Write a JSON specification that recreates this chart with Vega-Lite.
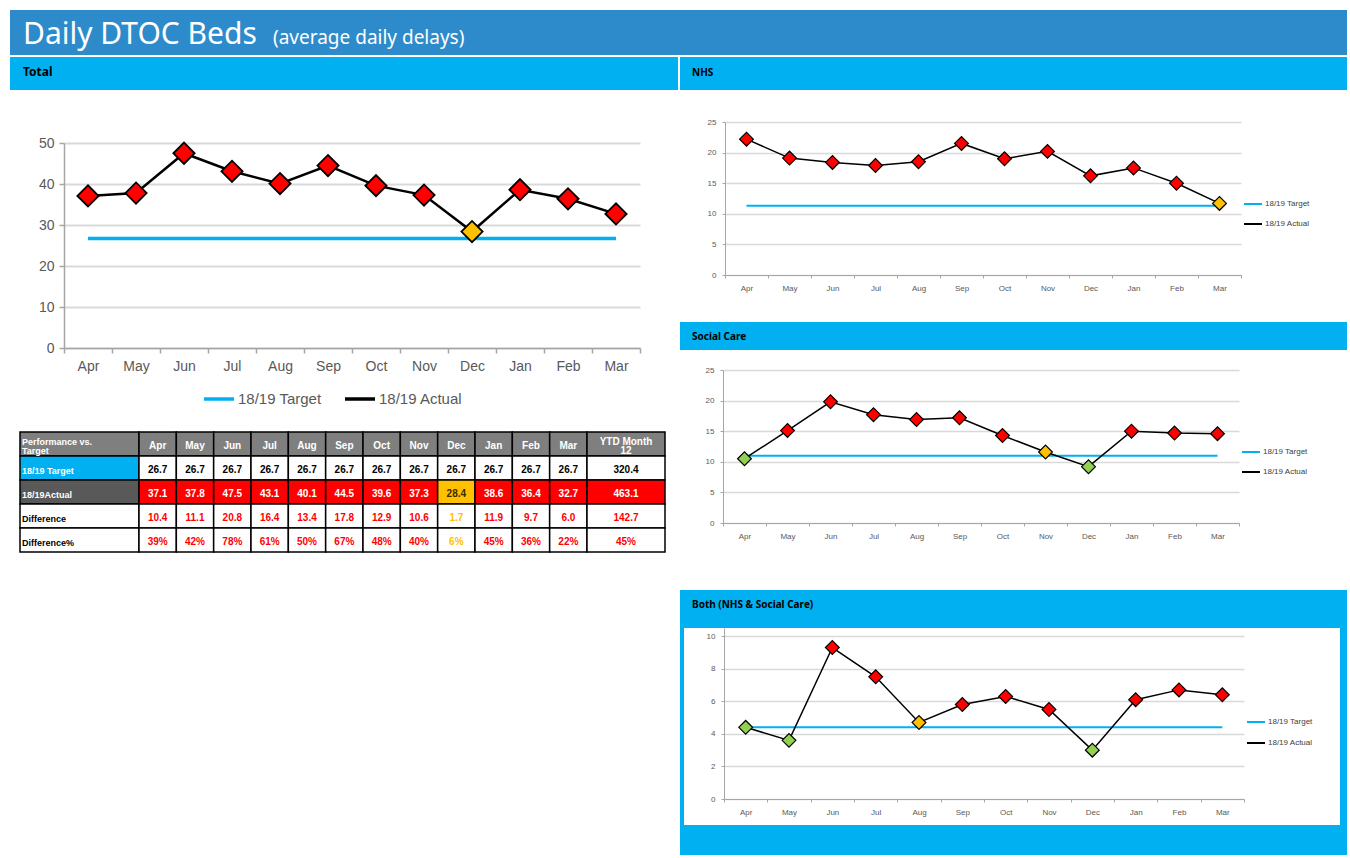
{
  "$schema": "https://vega.github.io/schema/vega-lite/v6.json",
  "padding": {"left": 10, "top": 10, "right": 3, "bottom": 3},
  "background": "white",
  "config": {
    "view": {"stroke": null},
    "font": "Liberation Sans",
    "axis": {"gridColor": "#D9D9D9", "domainColor": "#A6A6A6", "tickColor": "#A6A6A6", "labelColor": "#595959", "labelFont": "Liberation Sans"},
    "title": {"anchor": "start", "frame": "group", "orient": "top", "baseline": "alphabetic", "font": "Noto Sans", "fontWeight": "bold", "color": "black", "fontSize": 10}
  },
  "datasets": {
    "total": [
      {"month": "Apr", "actual": 37.1, "target": 26.7, "rag": "R"},
      {"month": "May", "actual": 37.8, "target": 26.7, "rag": "R"},
      {"month": "Jun", "actual": 47.5, "target": 26.7, "rag": "R"},
      {"month": "Jul", "actual": 43.1, "target": 26.7, "rag": "R"},
      {"month": "Aug", "actual": 40.1, "target": 26.7, "rag": "R"},
      {"month": "Sep", "actual": 44.5, "target": 26.7, "rag": "R"},
      {"month": "Oct", "actual": 39.6, "target": 26.7, "rag": "R"},
      {"month": "Nov", "actual": 37.3, "target": 26.7, "rag": "R"},
      {"month": "Dec", "actual": 28.4, "target": 26.7, "rag": "A"},
      {"month": "Jan", "actual": 38.6, "target": 26.7, "rag": "R"},
      {"month": "Feb", "actual": 36.4, "target": 26.7, "rag": "R"},
      {"month": "Mar", "actual": 32.7, "target": 26.7, "rag": "R"}
    ],
    "nhs": [
      {"month": "Apr", "actual": 22.2, "target": 11.3, "rag": "R"},
      {"month": "May", "actual": 19.1, "target": 11.3, "rag": "R"},
      {"month": "Jun", "actual": 18.4, "target": 11.3, "rag": "R"},
      {"month": "Jul", "actual": 17.9, "target": 11.3, "rag": "R"},
      {"month": "Aug", "actual": 18.5, "target": 11.3, "rag": "R"},
      {"month": "Sep", "actual": 21.5, "target": 11.3, "rag": "R"},
      {"month": "Oct", "actual": 19.0, "target": 11.3, "rag": "R"},
      {"month": "Nov", "actual": 20.2, "target": 11.3, "rag": "R"},
      {"month": "Dec", "actual": 16.2, "target": 11.3, "rag": "R"},
      {"month": "Jan", "actual": 17.5, "target": 11.3, "rag": "R"},
      {"month": "Feb", "actual": 15.0, "target": 11.3, "rag": "R"},
      {"month": "Mar", "actual": 11.7, "target": 11.3, "rag": "A"}
    ],
    "sc": [
      {"month": "Apr", "actual": 10.5, "target": 11.0, "rag": "G"},
      {"month": "May", "actual": 15.1, "target": 11.0, "rag": "R"},
      {"month": "Jun", "actual": 19.8, "target": 11.0, "rag": "R"},
      {"month": "Jul", "actual": 17.7, "target": 11.0, "rag": "R"},
      {"month": "Aug", "actual": 16.9, "target": 11.0, "rag": "R"},
      {"month": "Sep", "actual": 17.2, "target": 11.0, "rag": "R"},
      {"month": "Oct", "actual": 14.3, "target": 11.0, "rag": "R"},
      {"month": "Nov", "actual": 11.6, "target": 11.0, "rag": "A"},
      {"month": "Dec", "actual": 9.2, "target": 11.0, "rag": "G"},
      {"month": "Jan", "actual": 15.0, "target": 11.0, "rag": "R"},
      {"month": "Feb", "actual": 14.7, "target": 11.0, "rag": "R"},
      {"month": "Mar", "actual": 14.6, "target": 11.0, "rag": "R"}
    ],
    "both": [
      {"month": "Apr", "actual": 4.4, "target": 4.4, "rag": "G"},
      {"month": "May", "actual": 3.6, "target": 4.4, "rag": "G"},
      {"month": "Jun", "actual": 9.3, "target": 4.4, "rag": "R"},
      {"month": "Jul", "actual": 7.5, "target": 4.4, "rag": "R"},
      {"month": "Aug", "actual": 4.7, "target": 4.4, "rag": "A"},
      {"month": "Sep", "actual": 5.8, "target": 4.4, "rag": "R"},
      {"month": "Oct", "actual": 6.3, "target": 4.4, "rag": "R"},
      {"month": "Nov", "actual": 5.5, "target": 4.4, "rag": "R"},
      {"month": "Dec", "actual": 3.0, "target": 4.4, "rag": "G"},
      {"month": "Jan", "actual": 6.1, "target": 4.4, "rag": "R"},
      {"month": "Feb", "actual": 6.7, "target": 4.4, "rag": "R"},
      {"month": "Mar", "actual": 6.4, "target": 4.4, "rag": "R"}
    ],
    "table": [
      {"c": "L", "r": "hdr", "t": "Performance vs.\nTarget"},
      {"c": "L", "r": "Target", "t": "18/19 Target"},
      {"c": "L", "r": "Actual", "t": "18/19Actual"},
      {"c": "L", "r": "Diff", "t": "Difference"},
      {"c": "L", "r": "Pct", "t": "Difference%"},
      {"c": "Apr", "r": "hdr", "t": "Apr", "rag": "R"}, {"c": "Apr", "r": "Target", "t": "26.7", "rag": "R"}, {"c": "Apr", "r": "Actual", "t": "37.1", "rag": "R"}, {"c": "Apr", "r": "Diff", "t": "10.4", "rag": "R"}, {"c": "Apr", "r": "Pct", "t": "39%", "rag": "R"},
      {"c": "May", "r": "hdr", "t": "May", "rag": "R"}, {"c": "May", "r": "Target", "t": "26.7", "rag": "R"}, {"c": "May", "r": "Actual", "t": "37.8", "rag": "R"}, {"c": "May", "r": "Diff", "t": "11.1", "rag": "R"}, {"c": "May", "r": "Pct", "t": "42%", "rag": "R"},
      {"c": "Jun", "r": "hdr", "t": "Jun", "rag": "R"}, {"c": "Jun", "r": "Target", "t": "26.7", "rag": "R"}, {"c": "Jun", "r": "Actual", "t": "47.5", "rag": "R"}, {"c": "Jun", "r": "Diff", "t": "20.8", "rag": "R"}, {"c": "Jun", "r": "Pct", "t": "78%", "rag": "R"},
      {"c": "Jul", "r": "hdr", "t": "Jul", "rag": "R"}, {"c": "Jul", "r": "Target", "t": "26.7", "rag": "R"}, {"c": "Jul", "r": "Actual", "t": "43.1", "rag": "R"}, {"c": "Jul", "r": "Diff", "t": "16.4", "rag": "R"}, {"c": "Jul", "r": "Pct", "t": "61%", "rag": "R"},
      {"c": "Aug", "r": "hdr", "t": "Aug", "rag": "R"}, {"c": "Aug", "r": "Target", "t": "26.7", "rag": "R"}, {"c": "Aug", "r": "Actual", "t": "40.1", "rag": "R"}, {"c": "Aug", "r": "Diff", "t": "13.4", "rag": "R"}, {"c": "Aug", "r": "Pct", "t": "50%", "rag": "R"},
      {"c": "Sep", "r": "hdr", "t": "Sep", "rag": "R"}, {"c": "Sep", "r": "Target", "t": "26.7", "rag": "R"}, {"c": "Sep", "r": "Actual", "t": "44.5", "rag": "R"}, {"c": "Sep", "r": "Diff", "t": "17.8", "rag": "R"}, {"c": "Sep", "r": "Pct", "t": "67%", "rag": "R"},
      {"c": "Oct", "r": "hdr", "t": "Oct", "rag": "R"}, {"c": "Oct", "r": "Target", "t": "26.7", "rag": "R"}, {"c": "Oct", "r": "Actual", "t": "39.6", "rag": "R"}, {"c": "Oct", "r": "Diff", "t": "12.9", "rag": "R"}, {"c": "Oct", "r": "Pct", "t": "48%", "rag": "R"},
      {"c": "Nov", "r": "hdr", "t": "Nov", "rag": "R"}, {"c": "Nov", "r": "Target", "t": "26.7", "rag": "R"}, {"c": "Nov", "r": "Actual", "t": "37.3", "rag": "R"}, {"c": "Nov", "r": "Diff", "t": "10.6", "rag": "R"}, {"c": "Nov", "r": "Pct", "t": "40%", "rag": "R"},
      {"c": "Dec", "r": "hdr", "t": "Dec", "rag": "A"}, {"c": "Dec", "r": "Target", "t": "26.7", "rag": "A"}, {"c": "Dec", "r": "Actual", "t": "28.4", "rag": "A"}, {"c": "Dec", "r": "Diff", "t": "1.7", "rag": "A"}, {"c": "Dec", "r": "Pct", "t": "6%", "rag": "A"},
      {"c": "Jan", "r": "hdr", "t": "Jan", "rag": "R"}, {"c": "Jan", "r": "Target", "t": "26.7", "rag": "R"}, {"c": "Jan", "r": "Actual", "t": "38.6", "rag": "R"}, {"c": "Jan", "r": "Diff", "t": "11.9", "rag": "R"}, {"c": "Jan", "r": "Pct", "t": "45%", "rag": "R"},
      {"c": "Feb", "r": "hdr", "t": "Feb", "rag": "R"}, {"c": "Feb", "r": "Target", "t": "26.7", "rag": "R"}, {"c": "Feb", "r": "Actual", "t": "36.4", "rag": "R"}, {"c": "Feb", "r": "Diff", "t": "9.7", "rag": "R"}, {"c": "Feb", "r": "Pct", "t": "36%", "rag": "R"},
      {"c": "Mar", "r": "hdr", "t": "Mar", "rag": "R"}, {"c": "Mar", "r": "Target", "t": "26.7", "rag": "R"}, {"c": "Mar", "r": "Actual", "t": "32.7", "rag": "R"}, {"c": "Mar", "r": "Diff", "t": "6.0", "rag": "R"}, {"c": "Mar", "r": "Pct", "t": "22%", "rag": "R"},
      {"c": "YTD", "r": "hdr", "t": "YTD Month\n12", "rag": "R"}, {"c": "YTD", "r": "Target", "t": "320.4", "rag": "R"}, {"c": "YTD", "r": "Actual", "t": "463.1", "rag": "R"}, {"c": "YTD", "r": "Diff", "t": "142.7", "rag": "R"}, {"c": "YTD", "r": "Pct", "t": "45%", "rag": "R"}
    ]
  },
  "resolve": {"scale": {"color": "independent", "fill": "independent"}, "legend": {"color": "independent", "fill": "independent"}},
  "vconcat": [
    {
      "resolve": {"scale": {"color": "independent", "fill": "independent"}, "legend": {"color": "independent", "fill": "independent"}},
      "hconcat": [
        {"width": 255, "height": 45, "view": {"fill": "#2E8BCB"}, "data": {"values": []}, "mark": {"type": "point", "opacity": 0}, "encoding": {},
         "title": {"text": "Daily DTOC Beds", "offset": -40, "dx": 13, "fontSize": 30, "fontWeight": "normal", "color": "white"}},
        {"width": 1082, "height": 45, "view": {"fill": "#2E8BCB"}, "data": {"values": []}, "mark": {"type": "point", "opacity": 0}, "encoding": {},
         "title": {"text": "(average daily delays)", "offset": -38, "dx": 8, "fontSize": 19, "fontWeight": "normal", "color": "white"}}
      ],
      "spacing": 0, "bounds": "flush", "align": "each"
    },
    {
      "resolve": {"scale": {"color": "independent", "fill": "independent"}, "legend": {"color": "independent", "fill": "independent"}},
      "hconcat": [
        {
          "resolve": {"scale": {"color": "independent", "fill": "independent"}, "legend": {"color": "independent", "fill": "independent"}},
          "vconcat": [
            {"width": 668, "height": 33, "view": {"fill": "#00B0F0"}, "data": {"values": []}, "mark": {"type": "point", "opacity": 0}, "encoding": {},
             "title": {"text": "Total", "offset": -22, "dx": 13, "fontSize": 12}},
            {"width": 668, "height": 46, "data": {"values": []}, "mark": {"type": "point", "opacity": 0}, "encoding": {}},
            {
              "resolve": {"scale": {"color": "independent", "fill": "independent"}, "legend": {"color": "independent", "fill": "independent"}},
              "hconcat": [
                {"width": 54, "height": 205, "data": {"values": []}, "mark": {"type": "point", "opacity": 0}, "encoding": {}},
                {
                  "width": 576, "height": 205,
                  "data": {"name": "total"},
                  "encoding": {
                    "x": {"field": "month", "type": "ordinal", "sort": ["Apr","May","Jun","Jul","Aug","Sep","Oct","Nov","Dec","Jan","Feb","Mar"], "title": null,
                      "scale": {"type": "band", "paddingInner": 0, "paddingOuter": 0},
                      "axis": {"labelAngle": 0, "tickBand": "extent", "labelFontSize": 14, "labelPadding": 6, "tickSize": 5, "domainWidth": 1.5, "tickWidth": 1.5, "grid": false}}
                  },
                  "layer": [
                    {"mark": {"type": "line", "strokeWidth": 3.5},
                     "encoding": {
                       "y": {"field": "target", "type": "quantitative", "title": null, "scale": {"domain": [0, 50], "nice": false},
                         "axis": {"values": [0, 10, 20, 30, 40, 50], "labelFontSize": 14, "grid": true, "gridWidth": 2, "tickSize": 5, "labelPadding": 5, "domainWidth": 1.5, "tickWidth": 1.5}},
                       "color": {"datum": "18/19 Target", "type": "nominal",
                         "scale": {"domain": ["18/19 Target", "18/19 Actual"], "range": ["#00B0F0", "#000000"]},
                         "legend": {"title": null, "orient": "none", "legendX": 138, "legendY": 239, "direction": "horizontal",
                           "symbolType": "stroke", "symbolSize": 900, "symbolStrokeWidth": 3.5, "labelFontSize": 15, "labelColor": "#595959",
                           "labelFont": "Liberation Sans", "columnPadding": 16, "labelOffset": 2}}
                     }},
                    {"mark": {"type": "line", "strokeWidth": 2.5},
                     "encoding": {"y": {"field": "actual", "type": "quantitative", "title": null,
                         "axis": {"values": [0, 10, 20, 30, 40, 50], "labelFontSize": 14, "grid": true, "gridWidth": 2, "tickSize": 5, "labelPadding": 5, "domainWidth": 1.5, "tickWidth": 1.5}},
                       "color": {"datum": "18/19 Actual", "type": "nominal"}}},
                    {"mark": {"type": "point", "shape": "diamond", "filled": true, "size": 450, "stroke": "#000000", "strokeWidth": 1.8, "opacity": 1},
                     "encoding": {"y": {"field": "actual", "type": "quantitative", "title": null,
                         "axis": {"values": [0, 10, 20, 30, 40, 50], "labelFontSize": 14, "grid": true, "gridWidth": 2, "tickSize": 5, "labelPadding": 5, "domainWidth": 1.5, "tickWidth": 1.5}},
                       "fill": {"field": "rag", "type": "nominal", "scale": {"domain": ["R", "A", "G"], "range": ["#FF0000", "#FFC000", "#92D050"]}, "legend": null}}}
                  ]
                }
              ],
              "spacing": 0, "bounds": "flush", "align": "each"
            },
            {"width": 668, "height": 24, "data": {"values": []}, "mark": {"type": "point", "opacity": 0}, "encoding": {}},
            {
              "hconcat": [
                {"width": 10, "height": 120, "data": {"values": []}, "mark": {"type": "point", "opacity": 0}, "encoding": {}},
                {
                  "width": 119, "height": 120,
                  "data": {"name": "table"},
                  "transform": [{"filter": "datum.c === 'L'"}],
                  "encoding": {
                    "x": {"field": "c", "type": "nominal", "axis": null, "scale": {"type": "band", "paddingInner": 0, "paddingOuter": 0}},
                    "y": {"field": "r", "type": "nominal", "sort": ["hdr", "Target", "Actual", "Diff", "Pct"], "axis": null, "scale": {"type": "band", "paddingInner": 0, "paddingOuter": 0}}
                  },
                  "layer": [
                    {"mark": {"type": "rect", "stroke": "#000000", "strokeWidth": 1.5},
                     "encoding": {"fill": {"condition": [
                       {"test": "datum.r === 'hdr'", "value": "#7F7F7F"},
                       {"test": "datum.r === 'Target'", "value": "#00B0F0"},
                       {"test": "datum.r === 'Actual'", "value": "#595959"}
                     ], "value": "white"}}},
                    {"transform": [{"filter": "datum.r === 'hdr'"}],
                     "mark": {"type": "text", "align": "left", "dx": 2, "dy": -2, "fontSize": 9, "fontWeight": "bold", "lineBreak": "\n", "lineHeight": 9},
                     "encoding": {"x": {"field": "c", "type": "nominal", "bandPosition": 0}, "text": {"field": "t"}, "fill": {"value": "white"}}},
                    {"transform": [{"filter": "datum.r !== 'hdr'"}],
                     "mark": {"type": "text", "align": "left", "dx": 2, "dy": 3, "fontSize": 9, "fontWeight": "bold"},
                     "encoding": {
                       "x": {"field": "c", "type": "nominal", "bandPosition": 0},
                       "text": {"field": "t"},
                       "fill": {"condition": [{"test": "datum.r === 'Target' || datum.r === 'Actual'", "value": "white"}], "value": "black"}
                     }}
                  ]
                },
                {
                  "width": 448, "height": 120,
                  "data": {"name": "table"},
                  "transform": [{"filter": "datum.c !== 'L' && datum.c !== 'YTD'"}],
                  "encoding": {
                    "x": {"field": "c", "type": "nominal", "sort": ["Apr","May","Jun","Jul","Aug","Sep","Oct","Nov","Dec","Jan","Feb","Mar"], "axis": null, "scale": {"type": "band", "paddingInner": 0, "paddingOuter": 0}},
                    "y": {"field": "r", "type": "nominal", "sort": ["hdr", "Target", "Actual", "Diff", "Pct"], "axis": null, "scale": {"type": "band", "paddingInner": 0, "paddingOuter": 0}}
                  },
                  "layer": [
                    {"mark": {"type": "rect", "stroke": "#000000", "strokeWidth": 1.5},
                     "encoding": {"fill": {"condition": [
                       {"test": "datum.r === 'hdr'", "value": "#7F7F7F"},
                       {"test": "datum.r === 'Actual' && datum.rag === 'A'", "value": "#FFC000"},
                       {"test": "datum.r === 'Actual'", "value": "#FF0000"}
                     ], "value": "white"}}},
                    {"mark": {"type": "text", "align": "center", "dy": 2, "fontSize": 10, "fontWeight": "bold"},
                     "encoding": {
                       "text": {"field": "t"},
                       "fill": {"condition": [
                         {"test": "datum.r === 'hdr'", "value": "white"},
                         {"test": "datum.r === 'Target'", "value": "black"},
                         {"test": "datum.r === 'Actual' && datum.rag === 'A'", "value": "#3A2A00"},
                         {"test": "datum.r === 'Actual'", "value": "white"},
                         {"test": "datum.rag === 'A'", "value": "#FFC000"}
                       ], "value": "#FF0000"}
                     }}
                  ]
                },
                {
                  "width": 78, "height": 120,
                  "data": {"name": "table"},
                  "transform": [{"filter": "datum.c === 'YTD'"}],
                  "encoding": {
                    "x": {"field": "c", "type": "nominal", "axis": null, "scale": {"type": "band", "paddingInner": 0, "paddingOuter": 0}},
                    "y": {"field": "r", "type": "nominal", "sort": ["hdr", "Target", "Actual", "Diff", "Pct"], "axis": null, "scale": {"type": "band", "paddingInner": 0, "paddingOuter": 0}}
                  },
                  "layer": [
                    {"mark": {"type": "rect", "stroke": "#000000", "strokeWidth": 1.5},
                     "encoding": {"fill": {"condition": [
                       {"test": "datum.r === 'hdr'", "value": "#7F7F7F"},
                       {"test": "datum.r === 'Actual'", "value": "#FF0000"}
                     ], "value": "white"}}},
                    {"transform": [{"filter": "datum.r === 'hdr'"}],
                     "mark": {"type": "text", "align": "center", "dy": -2, "fontSize": 10, "fontWeight": "bold", "lineBreak": "\n", "lineHeight": 9},
                     "encoding": {"text": {"field": "t"}, "fill": {"value": "white"}}},
                    {"transform": [{"filter": "datum.r !== 'hdr'"}],
                     "mark": {"type": "text", "align": "center", "dy": 2, "fontSize": 10, "fontWeight": "bold"},
                     "encoding": {
                       "text": {"field": "t"},
                       "fill": {"condition": [
                         {"test": "datum.r === 'Actual'", "value": "white"},
                         {"test": "datum.r === 'Target'", "value": "black"}
                       ], "value": "#FF0000"}
                     }}
                  ]
                }
              ],
              "spacing": 0, "bounds": "flush", "align": "each"
            }
          ],
          "spacing": 0, "bounds": "full", "align": "each"
        },
        {
          "resolve": {"scale": {"color": "independent", "fill": "independent"}, "legend": {"color": "independent", "fill": "independent"}},
          "vconcat": [
            {"width": 667, "height": 33, "view": {"fill": "#00B0F0"}, "data": {"values": []}, "mark": {"type": "point", "opacity": 0}, "encoding": {},
             "title": {"text": "NHS", "offset": -21, "dx": 12, "fontSize": 10}},
            {"width": 667, "height": 28, "data": {"values": []}, "mark": {"type": "point", "opacity": 0}, "encoding": {}},
            {
              "resolve": {"scale": {"color": "independent", "fill": "independent"}, "legend": {"color": "independent", "fill": "independent"}},
              "hconcat": [
                {"width": 45, "height": 153, "data": {"values": []}, "mark": {"type": "point", "opacity": 0}, "encoding": {}},
                {
                  "width": 516, "height": 153,
                  "data": {"name": "nhs"},
                  "encoding": {
                    "x": {"field": "month", "type": "ordinal", "sort": ["Apr","May","Jun","Jul","Aug","Sep","Oct","Nov","Dec","Jan","Feb","Mar"], "title": null,
                      "scale": {"type": "band", "paddingInner": 0, "paddingOuter": 0},
                      "axis": {"labelAngle": 0, "tickBand": "extent", "labelFontSize": 8, "labelPadding": 6, "tickSize": 3, "grid": false}}
                  },
                  "layer": [
                    {"mark": {"type": "line", "strokeWidth": 2},
                     "encoding": {
                       "y": {"field": "target", "type": "quantitative", "title": null, "scale": {"domain": [0, 25], "nice": false},
                         "axis": {"values": [0, 5, 10, 15, 20, 25], "labelFontSize": 8, "grid": true, "gridWidth": 1.5, "tickSize": 3, "labelPadding": 6}},
                       "color": {"datum": "18/19 Target", "type": "nominal",
                         "scale": {"domain": ["18/19 Target", "18/19 Actual"], "range": ["#00B0F0", "#000000"]},
                         "legend": {"title": null, "orient": "none", "legendX": 518, "legendY": 72, "direction": "vertical",
                           "symbolType": "stroke", "symbolSize": 324, "symbolStrokeWidth": 2, "labelFontSize": 8, "labelColor": "#404040",
                           "labelFont": "Liberation Sans", "rowPadding": 6, "labelOffset": 2}}
                     }},
                    {"mark": {"type": "line", "strokeWidth": 1.5},
                     "encoding": {"y": {"field": "actual", "type": "quantitative", "title": null,
                         "axis": {"values": [0, 5, 10, 15, 20, 25], "labelFontSize": 8, "grid": true, "gridWidth": 1.5, "tickSize": 3, "labelPadding": 6}},
                       "color": {"datum": "18/19 Actual", "type": "nominal"}}},
                    {"mark": {"type": "point", "shape": "diamond", "filled": true, "size": 190, "stroke": "#000000", "strokeWidth": 1.2, "opacity": 1},
                     "encoding": {"y": {"field": "actual", "type": "quantitative", "title": null,
                         "axis": {"values": [0, 5, 10, 15, 20, 25], "labelFontSize": 8, "grid": true, "gridWidth": 1.5, "tickSize": 3, "labelPadding": 6}},
                       "fill": {"field": "rag", "type": "nominal", "scale": {"domain": ["R", "A", "G"], "range": ["#FF0000", "#FFC000", "#92D050"]}, "legend": null}}}
                  ]
                }
              ],
              "spacing": 0, "bounds": "flush", "align": "each"
            },
            {"width": 667, "height": 30, "data": {"values": []}, "mark": {"type": "point", "opacity": 0}, "encoding": {}},
            {"width": 667, "height": 28, "view": {"fill": "#00B0F0"}, "data": {"values": []}, "mark": {"type": "point", "opacity": 0}, "encoding": {},
             "title": {"text": "Social Care", "offset": -20, "dx": 12, "fontSize": 10}},
            {"width": 667, "height": 16, "data": {"values": []}, "mark": {"type": "point", "opacity": 0}, "encoding": {}},
            {
              "resolve": {"scale": {"color": "independent", "fill": "independent"}, "legend": {"color": "independent", "fill": "independent"}},
              "hconcat": [
                {"width": 43, "height": 153, "data": {"values": []}, "mark": {"type": "point", "opacity": 0}, "encoding": {}},
                {
                  "width": 516, "height": 153,
                  "data": {"name": "sc"},
                  "encoding": {
                    "x": {"field": "month", "type": "ordinal", "sort": ["Apr","May","Jun","Jul","Aug","Sep","Oct","Nov","Dec","Jan","Feb","Mar"], "title": null,
                      "scale": {"type": "band", "paddingInner": 0, "paddingOuter": 0},
                      "axis": {"labelAngle": 0, "tickBand": "extent", "labelFontSize": 8, "labelPadding": 6, "tickSize": 3, "grid": false}}
                  },
                  "layer": [
                    {"mark": {"type": "line", "strokeWidth": 2},
                     "encoding": {
                       "y": {"field": "target", "type": "quantitative", "title": null, "scale": {"domain": [0, 25], "nice": false},
                         "axis": {"values": [0, 5, 10, 15, 20, 25], "labelFontSize": 8, "grid": true, "gridWidth": 1.5, "tickSize": 3, "labelPadding": 6}},
                       "color": {"datum": "18/19 Target", "type": "nominal",
                         "scale": {"domain": ["18/19 Target", "18/19 Actual"], "range": ["#00B0F0", "#000000"]},
                         "legend": {"title": null, "orient": "none", "legendX": 518, "legendY": 72, "direction": "vertical",
                           "symbolType": "stroke", "symbolSize": 324, "symbolStrokeWidth": 2, "labelFontSize": 8, "labelColor": "#404040",
                           "labelFont": "Liberation Sans", "rowPadding": 6, "labelOffset": 2}}
                     }},
                    {"mark": {"type": "line", "strokeWidth": 1.5},
                     "encoding": {"y": {"field": "actual", "type": "quantitative", "title": null,
                         "axis": {"values": [0, 5, 10, 15, 20, 25], "labelFontSize": 8, "grid": true, "gridWidth": 1.5, "tickSize": 3, "labelPadding": 6}},
                       "color": {"datum": "18/19 Actual", "type": "nominal"}}},
                    {"mark": {"type": "point", "shape": "diamond", "filled": true, "size": 190, "stroke": "#000000", "strokeWidth": 1.2, "opacity": 1},
                     "encoding": {"y": {"field": "actual", "type": "quantitative", "title": null,
                         "axis": {"values": [0, 5, 10, 15, 20, 25], "labelFontSize": 8, "grid": true, "gridWidth": 1.5, "tickSize": 3, "labelPadding": 6}},
                       "fill": {"field": "rag", "type": "nominal", "scale": {"domain": ["R", "A", "G"], "range": ["#FF0000", "#FFC000", "#92D050"]}, "legend": null}}}
                  ]
                }
              ],
              "spacing": 0, "bounds": "flush", "align": "each"
            },
            {"width": 667, "height": 50, "data": {"values": []}, "mark": {"type": "point", "opacity": 0}, "encoding": {}},
            {"width": 667, "height": 38, "view": {"fill": "#00B0F0"}, "data": {"values": []}, "mark": {"type": "point", "opacity": 0}, "encoding": {},
             "title": {"text": "Both (NHS & Social Care)", "offset": -20, "dx": 12, "fontSize": 10}},
            {
              "resolve": {"scale": {"color": "independent", "fill": "independent"}, "legend": {"color": "independent", "fill": "independent"}},
              "hconcat": [
                {"width": 4, "height": 197, "view": {"fill": "#00B0F0"}, "data": {"values": []}, "mark": {"type": "point", "opacity": 0}, "encoding": {}},
                {"width": 40, "height": 197, "data": {"values": []}, "mark": {"type": "point", "opacity": 0}, "encoding": {}},
                {
                  "width": 520, "height": 171,
                  "data": {"name": "both"},
                  "encoding": {
                    "x": {"field": "month", "type": "ordinal", "sort": ["Apr","May","Jun","Jul","Aug","Sep","Oct","Nov","Dec","Jan","Feb","Mar"], "title": null,
                      "scale": {"type": "band", "paddingInner": 0, "paddingOuter": 0},
                      "axis": {"labelAngle": 0, "tickBand": "extent", "labelFontSize": 8, "labelPadding": 6, "tickSize": 3, "grid": false}}
                  },
                  "layer": [
                    {"mark": {"type": "line", "strokeWidth": 2},
                     "encoding": {
                       "y": {"field": "target", "type": "quantitative", "title": null, "scale": {"domain": [0, 10.5], "nice": false},
                         "axis": {"values": [0, 2, 4, 6, 8, 10], "labelFontSize": 8, "grid": true, "gridWidth": 1.5, "tickSize": 3, "labelPadding": 6}},
                       "color": {"datum": "18/19 Target", "type": "nominal",
                         "scale": {"domain": ["18/19 Target", "18/19 Actual"], "range": ["#00B0F0", "#000000"]},
                         "legend": {"title": null, "orient": "none", "legendX": 522, "legendY": 84, "direction": "vertical",
                           "symbolType": "stroke", "symbolSize": 324, "symbolStrokeWidth": 2, "labelFontSize": 8, "labelColor": "#404040",
                           "labelFont": "Liberation Sans", "rowPadding": 7, "labelOffset": 2}}
                     }},
                    {"mark": {"type": "line", "strokeWidth": 1.5},
                     "encoding": {"y": {"field": "actual", "type": "quantitative", "title": null,
                         "axis": {"values": [0, 2, 4, 6, 8, 10], "labelFontSize": 8, "grid": true, "gridWidth": 1.5, "tickSize": 3, "labelPadding": 6}},
                       "color": {"datum": "18/19 Actual", "type": "nominal"}}},
                    {"mark": {"type": "point", "shape": "diamond", "filled": true, "size": 190, "stroke": "#000000", "strokeWidth": 1.2, "opacity": 1},
                     "encoding": {"y": {"field": "actual", "type": "quantitative", "title": null,
                         "axis": {"values": [0, 2, 4, 6, 8, 10], "labelFontSize": 8, "grid": true, "gridWidth": 1.5, "tickSize": 3, "labelPadding": 6}},
                       "fill": {"field": "rag", "type": "nominal", "scale": {"domain": ["R", "A", "G"], "range": ["#FF0000", "#FFC000", "#92D050"]}, "legend": null}}}
                  ]
                },
                {"width": 96, "height": 197, "data": {"values": []}, "mark": {"type": "point", "opacity": 0}, "encoding": {}},
                {"width": 7, "height": 197, "view": {"fill": "#00B0F0"}, "data": {"values": []}, "mark": {"type": "point", "opacity": 0}, "encoding": {}}
              ],
              "spacing": 0, "bounds": "flush", "align": "each"
            },
            {"width": 667, "height": 30, "view": {"fill": "#00B0F0"}, "data": {"values": []}, "mark": {"type": "point", "opacity": 0}, "encoding": {}}
          ],
          "spacing": 0, "bounds": "full", "align": "each"
        }
      ],
      "spacing": 2, "bounds": "full", "align": "each"
    }
  ],
  "spacing": 2, "bounds": "full", "align": "each"
}
